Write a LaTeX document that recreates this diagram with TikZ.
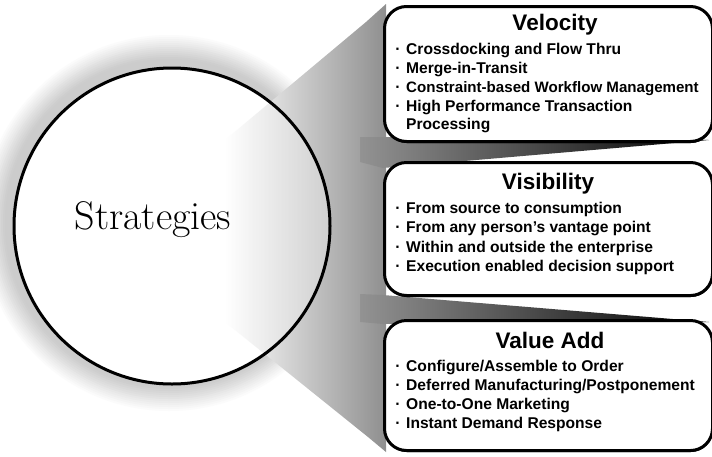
\documentclass[tikz,border=0pt]{standalone}
\usepackage{fontspec}
\newfontfamily\arialf{Liberation Sans}
\tikzset{
  box/.style={draw=black, line width=3pt, fill=white, rounded corners=22pt, rectangle, anchor=north west, inner sep=0pt},
  boxshadow/.style={fill=black, rounded corners=22pt},
  ttl/.style={font=\arialf\bfseries\fontsize{22.5}{26}\selectfont, anchor=base, inner sep=0pt},
  item/.style={font=\arialf\bfseries\fontsize{15.6}{19}\selectfont, anchor=base west, inner sep=0pt},
  bul/.style={font=\arialf\bfseries\fontsize{15.6}{19}\selectfont, anchor=base, inner sep=0pt},
  ring/.style={circle, draw=black, line width=3pt, minimum size=316pt, inner sep=0pt}
}
\begin{document}
\begin{tikzpicture}[x=1pt,y=-1pt]
\useasboundingbox (0,0) rectangle (712,456);
\clip (0,0) rectangle (712,456);
% halo
\foreach \r in {190,188,...,158}{
  \pgfmathsetmacro{\g}{min(20,(190-\r)*0.8)}
  \fill[black!\g] (169,223) circle (\r);
}
\fill[white] (172,226) circle (158);
% funnel
\shade[left color=white, middle color=gray!60, right color=gray!88] (225,140) -- (366,22) -- (386,4) -- (386,452) -- (368,437) -- (225,322) -- cycle;
% gap wedges
\shade[left color=gray!85, right color=black] (360,137) -- (383,137) -- (709,140) -- (383,168) -- (360,162) -- cycle;
\shade[left color=gray!85, right color=black] (360,294) -- (383,295) -- (709,322) -- (383,324) -- (360,322) -- cycle;
% circle
\fill[white, opacity=0.35] (172,226) circle (158);
\node[ring] (strat) at (172,226) {};
\node[font=\fontsize{40}{48}\selectfont, anchor=base, inner sep=0pt] (stratT) at (153,229) {Strategies};
% box shadows
\fill[boxshadow] (385,8) rectangle (713,143);
\fill[boxshadow] (385,164) rectangle (713,297);
\fill[boxshadow] (385,322) rectangle (713,452);
% boxes
\node[box, minimum width=328pt, minimum height=135pt] (vel) at (383,5) {};
\node[box, minimum width=328pt, minimum height=133pt] (vis) at (383,161) {};
\node[box, minimum width=328pt, minimum height=130pt] (val) at (383,319) {};
% Velocity
\node[ttl] (velT) at (555,30) {Velocity};
\node[bul] (vb1) at (398,54) {·};
\node[item] (vi1) at (406,54) {Crossdocking and Flow Thru};
\node[bul] (vb2) at (398,73) {·};
\node[item] (vi2) at (406,73) {Merge-in-Transit};
\node[bul] (vb3) at (398,92) {·};
\node[item, font=\arialf\bfseries\fontsize{15.1}{19}\selectfont] (vi3) at (406,92) {Constraint-based Workflow Management};
\node[bul] (vb4) at (398,111) {·};
\node[item] (vi4) at (406,111) {High Performance Transaction};
\node[item] (vi5) at (406,129) {Processing};
% Visibility
\node[ttl] (visT) at (548,189) {Visibility};
\node[bul] (sb1) at (398,213) {·};
\node[item] (si1) at (406,213) {From source to consumption};
\node[bul] (sb2) at (398,232) {·};
\node[item] (si2) at (406,232) {From any person’s vantage point};
\node[bul] (sb3) at (398,252) {·};
\node[item] (si3) at (406,252) {Within and outside the enterprise};
\node[bul] (sb4) at (398,271) {·};
\node[item] (si4) at (406,271) {Execution enabled decision support};
% Value Add
\node[ttl] (valT) at (550,348) {Value Add};
\node[bul] (ab1) at (398,371) {·};
\node[item] (ai1) at (406,371) {Configure/Assemble to Order};
\node[bul] (ab2) at (398,390) {·};
\node[item] (ai2) at (406,390) {Deferred Manufacturing/Postponement};
\node[bul] (ab3) at (398,409) {·};
\node[item] (ai3) at (406,409) {One-to-One Marketing};
\node[bul] (ab4) at (398,428) {·};
\node[item] (ai4) at (406,428) {Instant Demand Response};
\end{tikzpicture}
\end{document}
